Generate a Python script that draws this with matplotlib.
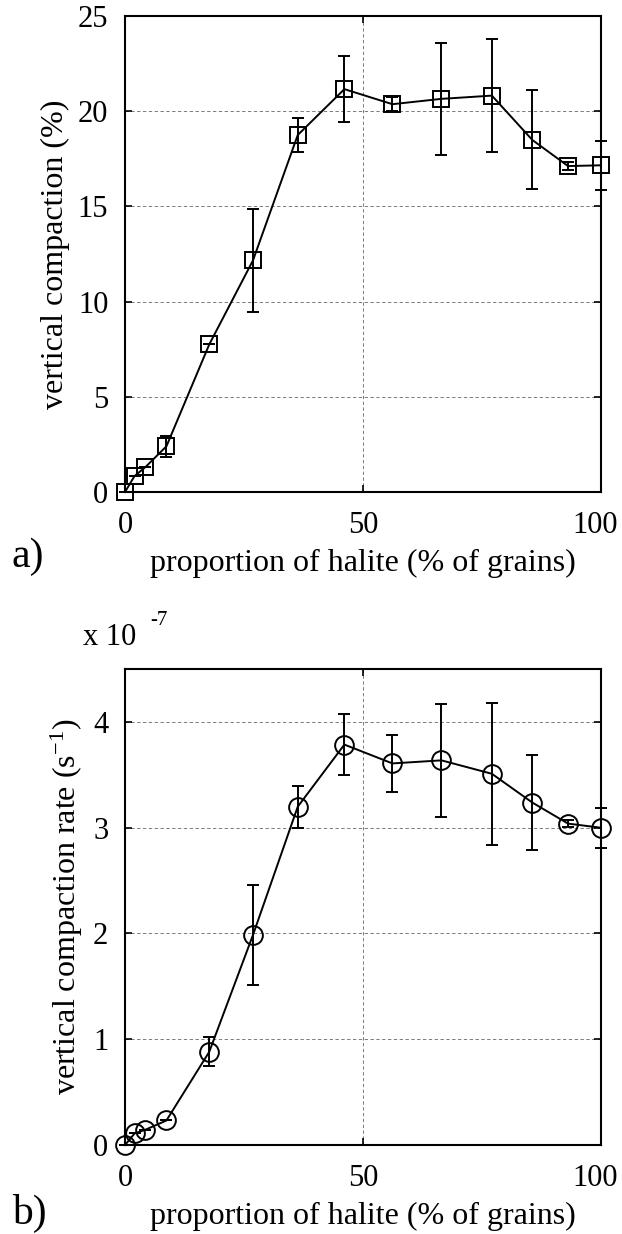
import matplotlib
matplotlib.use('Agg')
import matplotlib.pyplot as plt
import matplotlib.transforms as mtransforms
import numpy as np

plt.rcParams['font.family'] = 'Liberation Serif'
plt.rcParams['mathtext.fontset'] = 'custom'
plt.rcParams['mathtext.rm'] = 'Liberation Serif'
plt.rcParams['mathtext.it'] = 'Liberation Serif:italic'

# proportion of halite (% of grains)
halite = [0, 2, 4.3, 8.7, 17.7, 26.9, 36.3, 46.1, 56.2, 66.5, 77.1, 85.6, 93.1, 100]

# a) vertical compaction (%)
compaction = [0, 0.84, 1.31, 2.4, 7.75, 12.17, 18.75, 21.16, 20.37, 20.65, 20.82, 18.49, 17.12, 17.16]
compaction_err = [0, 0, 0, 0.55, 0, 2.72, 0.9, 1.72, 0.36, 2.96, 2.95, 2.6, 0.2, 1.3]

# b) vertical compaction rate (x 1e-7 s^-1)
rate = [0, 0.109, 0.145, 0.232, 0.881, 1.987, 3.199, 3.786, 3.608, 3.637, 3.51, 3.238, 3.039, 3.0]
rate_err = [0, 0, 0, 0, 0.136, 0.47, 0.2, 0.285, 0.27, 0.535, 0.67, 0.45, 0.03, 0.19]

fig = plt.figure(figsize=(6.22, 12.34), dpi=100)
ax1 = fig.add_axes([0.201, 0.6013, 0.765, 0.3857])
ax2 = fig.add_axes([0.201, 0.0721, 0.765, 0.3857])

fs = 22

def style(ax, ymax, yticks):
    ax.set_xlim(0, 100)
    ax.set_ylim(0, ymax)
    ax.set_xticks([0, 50, 100])
    ax.set_yticks(yticks)
    ax.grid(True, color='#666666', linestyle=(0, (4, 3)), linewidth=0.6)
    ax.tick_params(direction='in', top=True, right=True, labelsize=fs, length=5, width=1.2)
    ax.tick_params(axis='x', pad=14)
    ax.tick_params(axis='y', pad=12)
    for s in ax.spines.values():
        s.set_linewidth(1.5)
    ax.set_xlabel('proportion of halite (% of grains)', fontsize=23, labelpad=6)
    # keep "100" inside the figure like the reference
    lab = ax.get_xticklabels()[-1]
    lab.set_transform(lab.get_transform() +
                      mtransforms.ScaledTranslation(-6 / 100, 0, fig.dpi_scale_trans))

ax1.errorbar(halite, compaction, yerr=compaction_err, color='black', marker='s', markersize=11.5,
             markerfacecolor='none', markeredgewidth=1.4, linewidth=1.4, capsize=4, elinewidth=1.4,
             capthick=1.4, clip_on=False)
style(ax1, 25, [0, 5, 10, 15, 20, 25])
ax1.set_ylabel('vertical compaction (%)', fontsize=23, labelpad=6)

ax2.errorbar(halite, rate, yerr=rate_err, color='black', marker='o', markersize=13.5,
             markerfacecolor='none', markeredgewidth=1.4, linewidth=1.4, capsize=4, elinewidth=1.4,
             capthick=1.4, clip_on=False)
style(ax2, 4.5, [0, 1, 2, 3, 4])
ax2.set_ylabel('vertical compaction rate (s$^{-1}$)', fontsize=23, labelpad=6)

fig.text(0.019, 0.5486, 'a)', fontsize=30, va='center')
fig.text(0.019, 0.017, 'b)', fontsize=30, va='center')
fig.text(0.133, 0.4834, 'x 10', fontsize=fs, va='center')
fig.text(0.241, 0.4968, '-7', fontsize=15, va='center')

fig.savefig('out.png', dpi=100)
